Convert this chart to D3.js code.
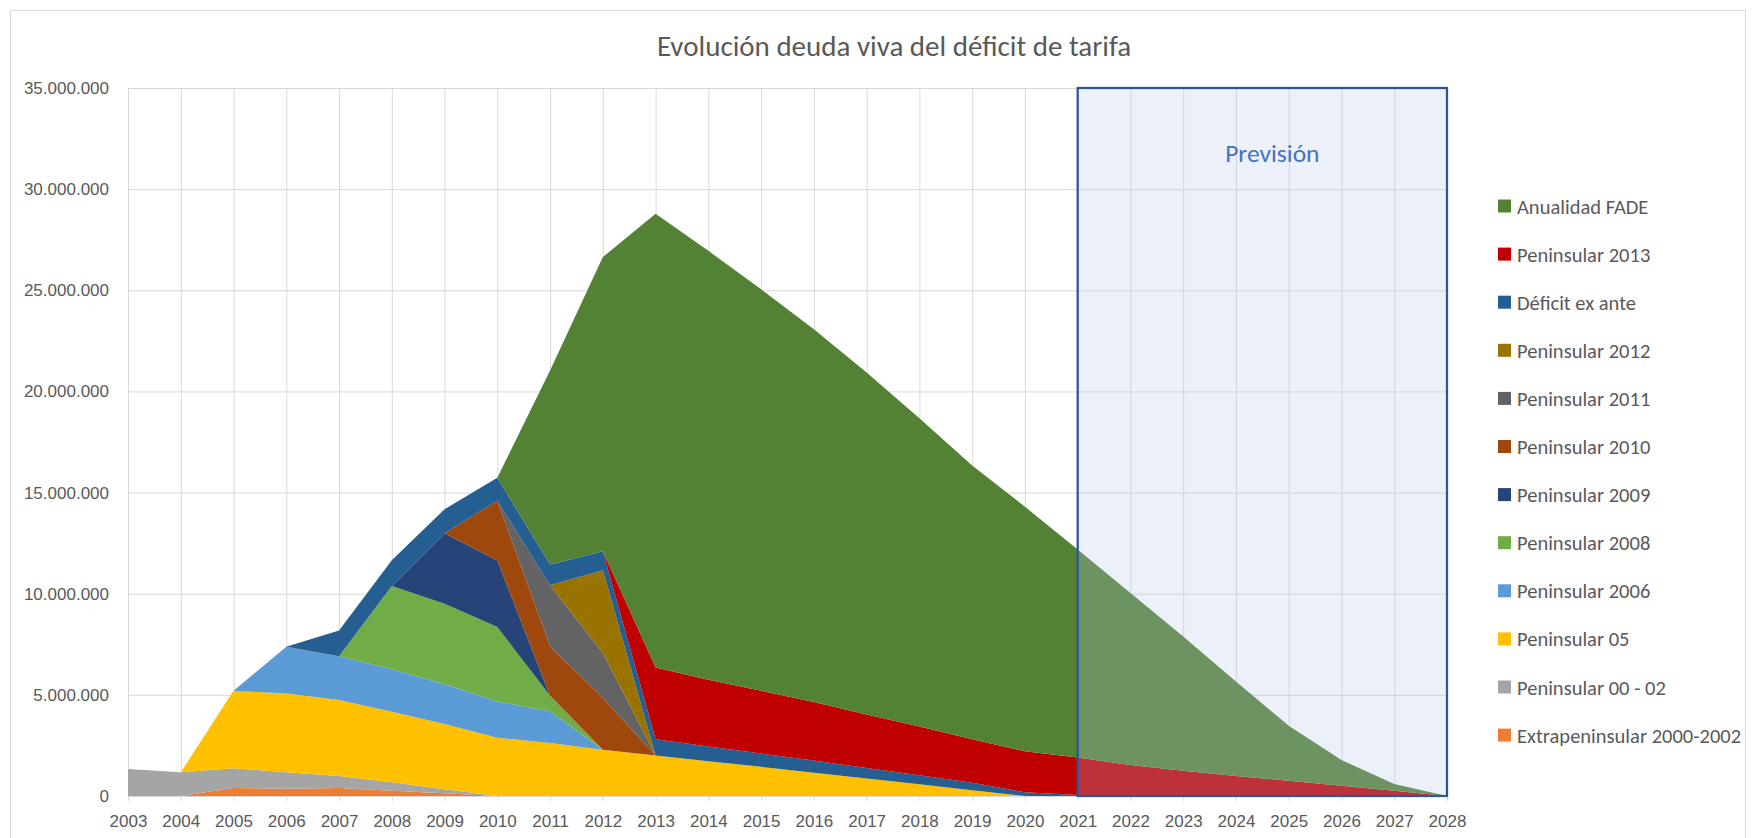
<!DOCTYPE html>
<html>
<head>
<meta charset="utf-8">
<script src="https://cdn.jsdelivr.net/npm/d3@7"></script>
<style>
  body { margin: 0; background: #fff; }
  svg { display: block; font-family: Carlito, Lato, sans-serif; }
</style>
</head>
<body>
<svg id="chart" width="1759" height="838"></svg>
<script>
// Categories
const years = [2003, 2004, 2005, 2006, 2007, 2008, 2009, 2010, 2011, 2012, 2013, 2014, 2015,
  2016, 2017, 2018, 2019, 2020, 2021, 2022, 2023, 2024, 2025, 2026, 2027, 2028];

// Series values, one per year (stack order: bottom to top)
const extra0002 = [0, 0, 400000, 360000, 400000, 260000, 130000, 0, 0, 0, 0, 0, 0,
  0, 0, 0, 0, 0, 0, 0, 0, 0, 0, 0, 0, 0];
const pen0002 = [1340000, 1170000, 970000, 810000, 590000, 420000, 200000, 0, 0, 0, 0, 0, 0,
  0, 0, 0, 0, 0, 0, 0, 0, 0, 0, 0, 0, 0];
const pen05 = [0, 0, 3830000, 3900000, 3750000, 3490000, 3230000, 2880000, 2620000, 2290000, 2000000, 1720000, 1440000,
  1150000, 860000, 580000, 290000, 0, 0, 0, 0, 0, 0, 0, 0, 0];
const pen2006 = [0, 0, 0, 2310000, 2170000, 2100000, 1970000, 1790000, 1570000, 0, 0, 0, 0,
  0, 0, 0, 0, 0, 0, 0, 0, 0, 0, 0, 0, 0];
const pen2008 = [0, 0, 0, 0, 0, 4110000, 3970000, 3680000, 770000, 0, 0, 0, 0,
  0, 0, 0, 0, 0, 0, 0, 0, 0, 0, 0, 0, 0];
const pen2009 = [0, 0, 0, 0, 0, 0, 3490000, 3290000, 0, 0, 0, 0, 0,
  0, 0, 0, 0, 0, 0, 0, 0, 0, 0, 0, 0, 0];
const pen2010 = [0, 0, 0, 0, 0, 0, 0, 2960000, 2440000, 2560000, 0, 0, 0,
  0, 0, 0, 0, 0, 0, 0, 0, 0, 0, 0, 0, 0];
const pen2011 = [0, 0, 0, 0, 0, 0, 0, 0, 3020000, 2220000, 0, 0, 0,
  0, 0, 0, 0, 0, 0, 0, 0, 0, 0, 0, 0, 0];
const pen2012 = [0, 0, 0, 0, 0, 0, 0, 0, 0, 4090000, 0, 0, 0,
  0, 0, 0, 0, 0, 0, 0, 0, 0, 0, 0, 0, 0];
const exAnte = [0, 0, 0, 0, 1270000, 1270000, 1180000, 1130000, 1020000, 940000, 810000, 730000, 660000,
  600000, 520000, 450000, 360000, 180000, 50000, 0, 0, 0, 0, 0, 0, 0];
const pen2013 = [0, 0, 0, 0, 0, 0, 0, 0, 0, 0, 3540000, 3300000, 3100000,
  2900000, 2650000, 2400000, 2150000, 2030000, 1850000, 1530000, 1250000, 990000, 760000, 510000, 260000, 0];
const fade = [0, 0, 0, 0, 0, 0, 0, 0, 9590000, 14540000, 22430000, 21200000, 19850000,
  18420000, 16910000, 15250000, 13540000, 12090000, 10280000, 8500000, 6640000, 4670000, 2710000, 1270000, 330000, 0];

const seriesNames = ['Extrapeninsular 2000-2002', 'Peninsular 00 - 02', 'Peninsular 05', 'Peninsular 2006',
  'Peninsular 2008', 'Peninsular 2009', 'Peninsular 2010', 'Peninsular 2011', 'Peninsular 2012',
  'Déficit ex ante', 'Peninsular 2013', 'Anualidad FADE'];
const seriesValues = [extra0002, pen0002, pen05, pen2006, pen2008, pen2009, pen2010, pen2011, pen2012,
  exAnte, pen2013, fade];
const seriesColors = ['#ED7D31', '#A5A5A5', '#FFC000', '#5B9BD5', '#70AD47', '#264478', '#9E480E',
  '#636363', '#997300', '#255E91', '#C00000', '#548235'];

// Y axis ticks
const yTicks = [0, 5000000, 10000000, 15000000, 20000000, 25000000, 30000000, 35000000];

// Forecast period
const forecastStart = 2021;
const forecastEnd = 2028;

const TEXT_COLOR = '#595959';
const GRID_COLOR = '#D9D9D9';

const svg = d3.select('#chart');

const x = d3.scaleLinear().domain([years[0], years[years.length - 1]]).range([128, 1447]);
const y = d3.scaleLinear().domain([0, 35000000]).range([796, 88]);

const esLocale = d3.formatLocale({ decimal: ',', thousands: '.', grouping: [3], currency: ['', ' €'] });
const fmt = esLocale.format(',d');

// Chart border
svg.append('rect')
  .attr('x', 10.5).attr('y', 10.5)
  .attr('width', 1735).attr('height', 840)
  .attr('fill', 'none')
  .attr('stroke', GRID_COLOR);

// Title
svg.append('text')
  .attr('x', 894).attr('y', 56)
  .attr('text-anchor', 'middle')
  .attr('font-size', 29)
  .attr('fill', TEXT_COLOR)
  .text('Evolución deuda viva del déficit de tarifa');

// Gridlines
svg.append('g')
  .attr('transform', `translate(${x.range()[0]},0)`)
  .call(d3.axisLeft(y).tickValues(yTicks).tickSize(-(x.range()[1] - x.range()[0])).tickFormat(''))
  .call(g => g.select('.domain').remove())
  .call(g => g.selectAll('line').attr('stroke', GRID_COLOR));

svg.append('g')
  .attr('transform', `translate(0,${y.range()[1]})`)
  .call(d3.axisTop(x).tickValues(years).tickSize(-(y.range()[0] - y.range()[1])).tickFormat(''))
  .call(g => g.select('.domain').remove())
  .call(g => g.selectAll('line').attr('stroke', GRID_COLOR));

// Stacked areas
const rows = years.map((year, i) => {
  const row = { year };
  seriesNames.forEach((name, s) => { row[name] = seriesValues[s][i]; });
  return row;
});
const stacked = d3.stack().keys(seriesNames)(rows);

const area = d3.area()
  .x(d => x(d.data.year))
  .y0(d => y(d[0]))
  .y1(d => y(d[1]));

svg.append('g')
  .selectAll('path')
  .data(stacked)
  .join('path')
    .attr('d', area)
    .attr('fill', (d, i) => seriesColors[i]);

// X axis
svg.append('g')
  .attr('transform', `translate(0,${y(0)})`)
  .call(d3.axisBottom(x).tickValues(years).tickFormat(d3.format('d')).tickSize(5).tickPadding(14))
  .call(g => g.select('.domain').attr('stroke', GRID_COLOR))
  .call(g => g.selectAll('line').attr('stroke', GRID_COLOR))
  .call(g => g.selectAll('text')
    .attr('fill', TEXT_COLOR)
    .attr('font-size', 17)
    .attr('font-family', null));

// Y axis labels
svg.append('g')
  .attr('transform', `translate(${x.range()[0]},0)`)
  .call(d3.axisLeft(y).tickValues(yTicks).tickFormat(fmt).tickSize(0).tickPadding(19))
  .call(g => g.select('.domain').remove())
  .call(g => g.selectAll('text')
    .attr('fill', TEXT_COLOR)
    .attr('font-size', 17)
    .attr('font-family', null));

// Forecast box
const fx0 = x(forecastStart);
const fx1 = x(forecastEnd);
svg.append('rect')
  .attr('x', fx0).attr('y', y(35000000))
  .attr('width', fx1 - fx0)
  .attr('height', y(0) - y(35000000))
  .attr('fill', '#B4C7E7')
  .attr('fill-opacity', 0.25)
  .attr('stroke', '#2F5597')
  .attr('stroke-width', 2.25);

svg.append('text')
  .attr('x', (fx0 + fx1) / 2 + 10)
  .attr('y', 162)
  .attr('text-anchor', 'middle')
  .attr('font-size', 25.5)
  .attr('fill', '#4472C4')
  .text('Previsión');

// Legend (top entry = top of stack)
const legend = svg.append('g')
  .selectAll('g')
  .data(seriesNames.map((name, i) => ({ name, color: seriesColors[i] })).reverse())
  .join('g')
    .attr('transform', (d, i) => `translate(1498,${206 + i * 48.1})`);

legend.append('rect')
  .attr('x', 0).attr('y', -6.5)
  .attr('width', 13).attr('height', 13)
  .attr('fill', d => d.color);

legend.append('text')
  .attr('x', 19).attr('y', 7.5)
  .attr('font-size', 20.5)
  .attr('fill', TEXT_COLOR)
  .text(d => d.name);
</script>
</body>
</html>
